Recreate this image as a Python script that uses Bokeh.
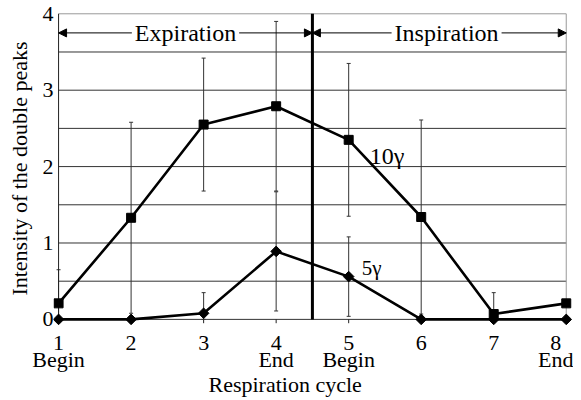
import numpy as np
from bokeh.plotting import figure
from bokeh.models import (Range1d, FixedTicker, ColumnDataSource, Whisker, TeeHead,
                          Arrow, NormalHead, Label, Title)
from bokeh.embed import file_html
from bokeh.resources import INLINE

# ---- data ----
cycle = [1, 2, 3, 4, 5, 6, 7, 8]
phase = ["Begin", "", "", "End", "Begin", "", "", "End"]
y_ticks = [0, 1, 2, 3, 4]
i10 = [0.21, 1.33, 2.55, 2.79, 2.35, 1.34, 0.07, 0.21]
err10 = [0.44, 1.25, 0.87, 1.11, 1.00, 1.27, 0.28, 0.0]
i5 = [0.0, 0.0, 0.08, 0.89, 0.56, 0.0, 0.0, 0.0]
err5 = [0.0, 0.0, 0.27, 0.78, 0.52, 0.0, 0.0, 0.0]
series_names = ["10γ", "5γ"]
phase_names = ["Expiration", "Inspiration"]
phase_split = 4.5

FONT = "Liberation Serif"

p = figure(width=573, height=400,
           x_range=Range1d(0.93, 8.1), y_range=Range1d(-0.08, 4.03),
           output_backend="svg", toolbar_location=None,
           min_border_left=53, min_border_right=0, min_border_top=11,
           min_border_bottom=75)
p.outline_line_color = None
p.xgrid.visible = False
p.ygrid.visible = False
p.background_fill_color = "white"
p.border_fill_color = "white"

x0, x1 = cycle[0], cycle[-1]
ytop = y_ticks[-1]

# horizontal grid lines every 0.5
gy = np.arange(0, ytop, 0.5)
p.segment(x0=[x0] * len(gy), x1=[x1] * len(gy), y0=gy, y1=gy, line_color="#333333", line_width=1)
p.segment(x0=[x0], x1=[x1], y0=[ytop], y1=[ytop], line_color="#9a9a9a", line_width=1)
# frame verticals
p.segment(x0=[x0], x1=[x0], y0=[0], y1=[ytop], line_color="#222222", line_width=1)
p.segment(x0=[x1], x1=[x1], y0=[0], y1=[ytop], line_color="#9a9a9a", line_width=1)
# x ticks
p.segment(x0=cycle, x1=cycle, y0=[0] * len(cycle), y1=[-0.05] * len(cycle), line_color="#222222", line_width=1)

# phase divider
p.segment(x0=[phase_split], x1=[phase_split], y0=[0], y1=[ytop], line_color="black", line_width=3)

# error bars
def add_whiskers(ys, es):
    xs = [x for x, e in zip(cycle, es) if e > 0]
    up = [y + e for y, e in zip(ys, es) if e > 0]
    lo = [max(0.0, y - e) for y, e in zip(ys, es) if e > 0]
    src = ColumnDataSource(dict(x=xs, up=up, lo=lo))
    w = Whisker(base="x", upper="up", lower="lo", source=src, dimension="height",
                line_color="#333333", line_width=1,
                upper_head=TeeHead(size=4, line_color="#333333", line_width=1),
                lower_head=TeeHead(size=4, line_color="#333333", line_width=1))
    p.add_layout(w)

add_whiskers(i10, err10)
add_whiskers(i5, err5)

# series
p.line(cycle, i10, line_color="black", line_width=2.6)
p.scatter(cycle, i10, marker="square", size=9, fill_color="black", line_color="black")
p.line(cycle, i5, line_color="black", line_width=2.6)
p.scatter(cycle, i5, marker="square", angle=np.pi / 4, size=7.5, fill_color="black", line_color="black")

# series labels
p.add_layout(Label(x=5.29, y=2.14, text=series_names[0], text_font=FONT, text_font_size="24px",
                   text_align="left", text_baseline="alphabetic", text_color="black"))
p.add_layout(Label(x=5.18, y=0.667, text=series_names[1], text_font=FONT, text_font_size="21px",
                   text_align="left", text_baseline="alphabetic", text_color="black"))

# phase arrows
ay = 3.75
for xa, xb, name, xc in [(x0, phase_split, phase_names[0], 2.75),
                         (phase_split, x1, phase_names[1], 6.35)]:
    p.add_layout(Arrow(x_start=xa, y_start=ay, x_end=xb, y_end=ay, line_color="black", line_width=1,
                       start=NormalHead(size=8, fill_color="black", line_color="black", line_width=1),
                       end=NormalHead(size=8, fill_color="black", line_color="black", line_width=1)))
    p.add_layout(Label(x=xc, y=ay, text=name, text_font=FONT, text_font_size="24px",
                       text_align="center", text_baseline="middle", text_color="black",
                       background_fill_color="white", padding=3))

# axes
p.xaxis.ticker = FixedTicker(ticks=cycle)
p.xaxis.major_label_overrides = {c: (f"{c}\n{ph}" if ph else f"{c}") for c, ph in zip(cycle, phase)}
p.yaxis.ticker = FixedTicker(ticks=y_ticks)
for ax in (p.xaxis[0], p.yaxis[0]):
    ax.axis_line_color = None
    ax.major_tick_line_color = None
    ax.minor_tick_line_color = None
    ax.major_tick_out = 0
    ax.major_tick_in = 0
    ax.major_label_text_font = FONT
    ax.major_label_text_font_size = "22px"
    ax.major_label_text_color = "black"
    ax.axis_label_text_font = FONT
    ax.axis_label_text_font_size = "22px"
    ax.axis_label_text_font_style = "normal"
    ax.axis_label_text_color = "black"
p.xaxis.major_label_standoff = 4
p.xaxis.major_label_text_line_height = 0.7
p.yaxis.major_label_standoff = 0
p.yaxis.axis_label = "Intensity of the double peaks"
p.yaxis.axis_label_standoff = 8

p.add_layout(Title(text="Respiration cycle", align="left", offset=155, text_font=FONT,
                   text_font_size="22px", text_font_style="normal", text_color="black",
                   standoff=-11), "below")

open("out.html", "w").write(file_html(p, INLINE))
